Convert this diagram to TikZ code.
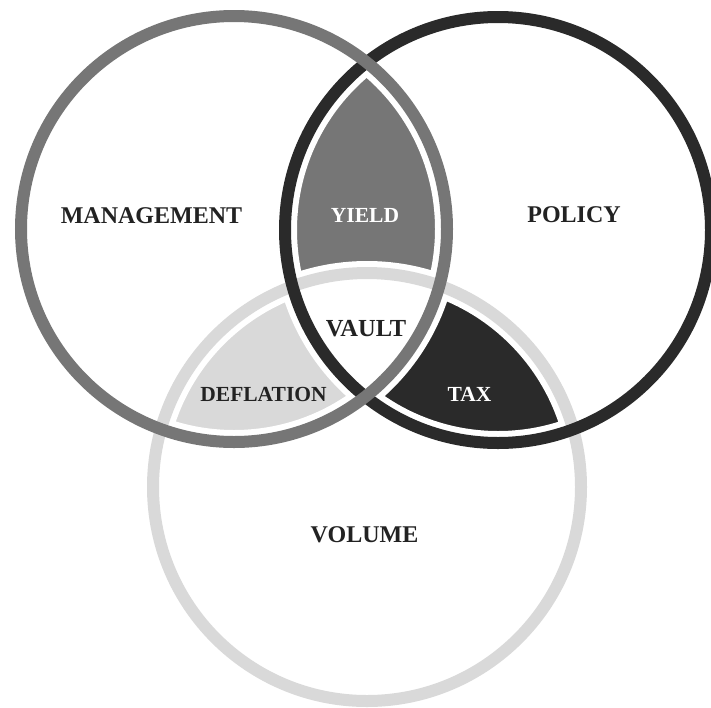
\documentclass[tikz,border=0pt]{standalone}
\usepackage{fontspec}
\setmainfont{Liberation Serif}
\definecolor{cgray}{HTML}{767676}
\definecolor{cdark}{HTML}{2A2A2A}
\definecolor{clight}{HTML}{D9D9D9}
\definecolor{ctext}{HTML}{222222}
\tikzset{
  ring/.style={line width=12pt},
  halo/.style={line width=24pt, draw=white},
  biglabel/.style={font=\fontsize{24}{24}\selectfont\bfseries, text=ctext, anchor=base, inner sep=0pt},
  smalllabel/.style={font=\fontsize{21.5}{21.5}\selectfont\bfseries, anchor=base, inner sep=0pt}
}
\begin{document}
\begin{tikzpicture}[x=1pt,y=-1pt]
\useasboundingbox (0,0) rectangle (711,707);
\fill[white] (0,0) rectangle (711,707);
\def\Lc{(234,229) circle[radius=213pt]}
\def\Rc{(498,230) circle[radius=213pt]}
\def\Bc{(367,487) circle[radius=214pt]}
% intersection fills
\begin{scope}
  \clip \Lc; \clip \Rc;
  \fill[cgray] (0,0) rectangle (711,707);
\end{scope}
\begin{scope}
  \clip \Lc; \clip \Bc;
  \fill[clight] (0,0) rectangle (711,707);
\end{scope}
\begin{scope}
  \clip \Rc; \clip \Bc;
  \fill[cdark] (0,0) rectangle (711,707);
\end{scope}
\begin{scope}
  \clip \Lc; \clip \Rc; \clip \Bc;
  \fill[white] (0,0) rectangle (711,707);
\end{scope}
% white gaps
\draw[halo] \Bc;
\draw[halo] \Rc;
\draw[halo] \Lc;
% rings
\draw[ring, draw=clight] \Bc;
\draw[ring, draw=cdark] \Rc;
\draw[ring, draw=cgray] \Lc;
% labels
\node[biglabel] (management) at (151.5,223) {MANAGEMENT};
\node[biglabel] (policy) at (574,222) {POLICY};
\node[biglabel] (volume) at (364.5,542) {VOLUME};
\node[font=\fontsize{24.5}{24.5}\selectfont\bfseries, text=ctext, anchor=base, inner sep=0pt] (vault) at (366,336) {VAULT};
\node[smalllabel, text=white] (yield) at (365,222) {YIELD};
\node[smalllabel, text=ctext] (deflation) at (263.5,401) {DEFLATION};
\node[smalllabel, text=white] (tax) at (469.5,401) {TAX};
\end{tikzpicture}
\end{document}
